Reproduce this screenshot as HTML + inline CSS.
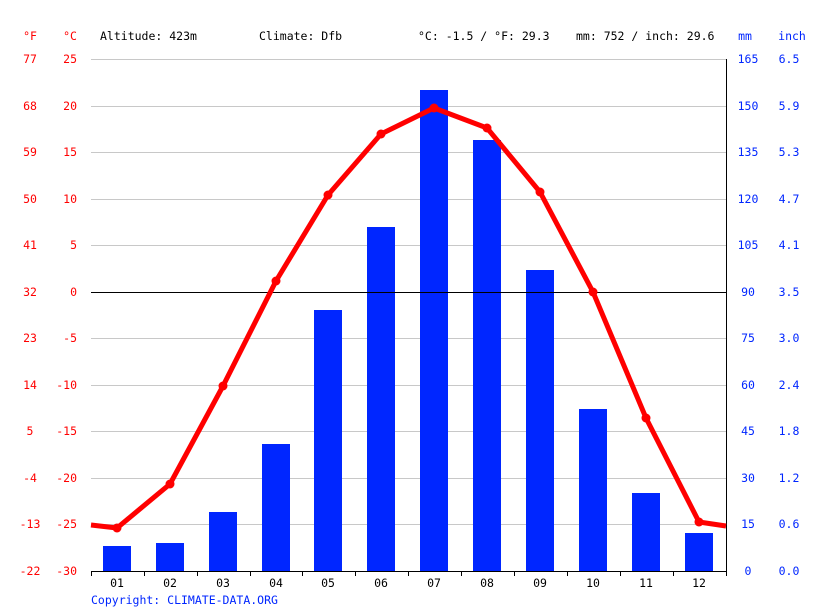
<!DOCTYPE html>
<html><head><meta charset="utf-8"><style>
body{margin:0;background:#fff}
svg text{font-family:"DejaVu Sans Mono","Liberation Mono",monospace;font-size:11.5px}
</style></head><body>
<svg width="815" height="611" xmlns="http://www.w3.org/2000/svg">
<rect width="815" height="611" fill="#fff"/>
<g stroke="#c8c8c8" stroke-width="1">
<line x1="91" x2="726" y1="59.5" y2="59.5"/><line x1="91" x2="726" y1="106.5" y2="106.5"/>
<line x1="91" x2="726" y1="152.5" y2="152.5"/><line x1="91" x2="726" y1="199.5" y2="199.5"/>
<line x1="91" x2="726" y1="245.5" y2="245.5"/><line x1="91" x2="726" y1="338.5" y2="338.5"/>
<line x1="91" x2="726" y1="385.5" y2="385.5"/><line x1="91" x2="726" y1="431.5" y2="431.5"/>
<line x1="91" x2="726" y1="478.5" y2="478.5"/><line x1="91" x2="726" y1="524.5" y2="524.5"/>
</g>
<g fill="#0026ff">
<rect x="103" y="546" width="28" height="25"/><rect x="156" y="543" width="28" height="28"/>
<rect x="209" y="512" width="28" height="59"/><rect x="262" y="444" width="28" height="127"/>
<rect x="314" y="310" width="28" height="261"/><rect x="367" y="227" width="28" height="344"/>
<rect x="420" y="90" width="28" height="481"/><rect x="473" y="140" width="28" height="431"/>
<rect x="526" y="270" width="28" height="301"/><rect x="579" y="409" width="28" height="162"/>
<rect x="632" y="493" width="28" height="78"/><rect x="685" y="533" width="28" height="38"/>
</g>
<line x1="91" x2="726" y1="292.5" y2="292.5" stroke="#000"/>
<line x1="91" x2="726" y1="571.5" y2="571.5" stroke="#000"/>
<line x1="726.5" x2="726.5" y1="59" y2="571" stroke="#000"/>
<g stroke="#000"><line x1="91.5" x2="91.5" y1="571" y2="576"/><line x1="144.5" x2="144.5" y1="571" y2="576"/><line x1="197.5" x2="197.5" y1="571" y2="576"/><line x1="250.5" x2="250.5" y1="571" y2="576"/><line x1="302.5" x2="302.5" y1="571" y2="576"/><line x1="355.5" x2="355.5" y1="571" y2="576"/><line x1="408.5" x2="408.5" y1="571" y2="576"/><line x1="461.5" x2="461.5" y1="571" y2="576"/><line x1="514.5" x2="514.5" y1="571" y2="576"/><line x1="567.5" x2="567.5" y1="571" y2="576"/><line x1="620.5" x2="620.5" y1="571" y2="576"/><line x1="673.5" x2="673.5" y1="571" y2="576"/><line x1="726.5" x2="726.5" y1="571" y2="576"/></g>
<polyline fill="none" stroke="#ff0000" stroke-width="5" stroke-linejoin="round" points="91,525 117,528 170,484 223,386 276,281 328,195 381,134 434,108 487,128 540,192 593,292 646,418 699,522 726,526"/>
<g fill="#ff0000"><circle cx="117" cy="528" r="4.5"/><circle cx="170" cy="484" r="4.5"/><circle cx="223" cy="386" r="4.5"/><circle cx="276" cy="281" r="4.5"/><circle cx="328" cy="195" r="4.5"/><circle cx="381" cy="134" r="4.5"/><circle cx="434" cy="108" r="4.5"/><circle cx="487" cy="128" r="4.5"/><circle cx="540" cy="192" r="4.5"/><circle cx="593" cy="292" r="4.5"/><circle cx="646" cy="418" r="4.5"/><circle cx="699" cy="522" r="4.5"/></g>
<g fill="#ff0000" text-anchor="middle">
<text x="30" y="40">°F</text><text x="70" y="40">°C</text>
<text x="30" y="63">77</text><text x="30" y="110">68</text><text x="30" y="156">59</text><text x="30" y="203">50</text><text x="30" y="249">41</text><text x="30" y="296">32</text><text x="30" y="342">23</text><text x="30" y="389">14</text><text x="30" y="435">5</text><text x="30" y="482">-4</text><text x="30" y="528">-13</text><text x="30" y="575">-22</text>
</g>
<g fill="#ff0000" text-anchor="end">
<text x="77" y="63">25</text><text x="77" y="110">20</text><text x="77" y="156">15</text><text x="77" y="203">10</text><text x="77" y="249">5</text><text x="77" y="296">0</text><text x="77" y="342">-5</text><text x="77" y="389">-10</text><text x="77" y="435">-15</text><text x="77" y="482">-20</text><text x="77" y="528">-25</text><text x="77" y="575">-30</text>
</g>
<g fill="#0026ff" text-anchor="middle">
<text x="745" y="40">mm</text><text x="792" y="40">inch</text>
<text x="748" y="63">165</text><text x="748" y="110">150</text><text x="748" y="156">135</text><text x="748" y="203">120</text><text x="748" y="249">105</text><text x="748" y="296">90</text><text x="748" y="342">75</text><text x="748" y="389">60</text><text x="748" y="435">45</text><text x="748" y="482">30</text><text x="748" y="528">15</text><text x="748" y="575">0</text>
<text x="789" y="63">6.5</text><text x="789" y="110">5.9</text><text x="789" y="156">5.3</text><text x="789" y="203">4.7</text><text x="789" y="249">4.1</text><text x="789" y="296">3.5</text><text x="789" y="342">3.0</text><text x="789" y="389">2.4</text><text x="789" y="435">1.8</text><text x="789" y="482">1.2</text><text x="789" y="528">0.6</text><text x="789" y="575">0.0</text>
</g>
<g fill="#000" text-anchor="middle">
<text x="117" y="587">01</text><text x="170" y="587">02</text><text x="223" y="587">03</text><text x="276" y="587">04</text><text x="328" y="587">05</text><text x="381" y="587">06</text><text x="434" y="587">07</text><text x="487" y="587">08</text><text x="540" y="587">09</text><text x="593" y="587">10</text><text x="646" y="587">11</text><text x="699" y="587">12</text>
</g>
<g fill="#000">
<text x="100" y="40">Altitude: 423m</text><text x="259" y="40">Climate: Dfb</text><text x="418" y="40">°C: -1.5 / °F: 29.3</text><text x="576" y="40">mm: 752 / inch: 29.6</text>
</g>
<text x="91" y="604" fill="#0026ff">Copyright: CLIMATE-DATA.ORG</text>
</svg>
</body></html>
